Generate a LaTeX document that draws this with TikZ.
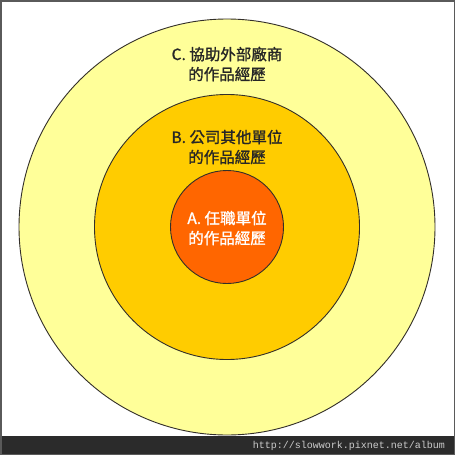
\documentclass[tikz,border=0pt]{standalone}
\usepackage{fontspec}
\newfontfamily\cjk[FakeBold=1.2]{Noto Sans CJK TC}
\newfontfamily\urlfont{Liberation Mono}
\definecolor{ringC}{HTML}{FFFF99}
\definecolor{ringB}{HTML}{FFCC00}
\definecolor{ringA}{HTML}{FF6600}
\definecolor{barcol}{HTML}{2B2B2B}
\definecolor{framecol}{HTML}{5A5A5A}
\tikzset{
  ring/.style={circle, draw=black!85!olive, line width=0.9pt, inner sep=0pt},
  ringtext/.style={font=\cjk\fontsize{15.5}{20}\selectfont, align=center, text=black!85},
}
\begin{document}
\begin{tikzpicture}[x=1pt,y=-1pt]
\useasboundingbox (0,0) rectangle (455,455);
\fill[white] (0,0) rectangle (455,455);
%%% the three rings, outer one first
\node[ring, fill=ringC, minimum size=416pt] (outer) at (227,227) {};
\node[ring, fill=ringB, minimum size=265pt] (middle) at (227,227) {};
\node[ring, fill=ringA, minimum size=113pt] (inner) at (227,227) {};
%%% labels
\node[ringtext] (labelC) at (227,64) {C. 協助外部廠商\\的作品經歷};
\node[ringtext] (labelB) at (227,147) {B. 公司其他單位\\的作品經歷};
\node[ringtext, text=white] (labelA) at (227,228) {A. 任職單位\\的作品經歷};
%%% bottom bar
\fill[barcol] (0,436) rectangle (455,455);
\node[font=\urlfont\fontsize{10}{10}\selectfont, text=black!20, anchor=east, inner sep=0pt] (url) at (445,446) {http://slowwork.pixnet.net/album};
\draw[framecol, line width=1.5pt] (0.75,0.75) rectangle (454.25,454.25);
\end{tikzpicture}
\end{document}
